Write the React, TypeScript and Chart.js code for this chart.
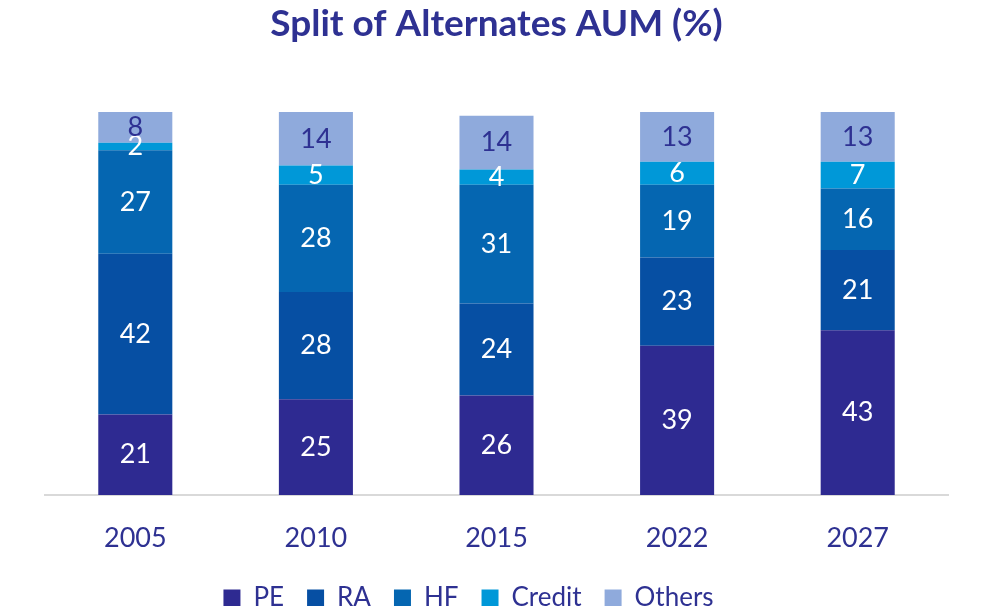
import React, { useEffect, useRef } from "react";
import { Chart, registerables } from "chart.js";

Chart.register(...registerables);

const years = ["2005", "2010", "2015", "2022", "2027"];
const pe = [21, 25, 26, 39, 43];
const ra = [42, 28, 24, 23, 21];
const hf = [27, 28, 31, 19, 16];
const credit = [2, 5, 4, 6, 7];
const others = [8, 14, 14, 13, 13];
const seriesNames = ["PE", "RA", "HF", "Credit", "Others"];
const seriesValues = [pe, ra, hf, credit, others];
const seriesColors = ["#2E2A91", "#064FA3", "#0566B1", "#0098D8", "#8FAADC"];
const labelColors = ["#FFFFFF", "#FFFFFF", "#FFFFFF", "#FFFFFF", "#2E3192"];

const TEXT = "#2E3192";
const FONT = "Lato, 'Open Sans', sans-serif";

const segLabels = {
  id: "segLabels",
  afterDatasetsDraw(chart: any) {
    const ctx = chart.ctx;
    chart.data.datasets.forEach((ds: any, i: number) => {
      const meta = chart.getDatasetMeta(i);
      meta.data.forEach((bar: any, j: number) => {
        const v = ds.data[j];
        const { x, y, base } = bar.getProps(["x", "y", "base"], true);
        ctx.save();
        ctx.fillStyle = labelColors[i];
        ctx.font = `27px ${FONT}`;
        ctx.textAlign = "center";
        ctx.textBaseline = "middle";
        ctx.fillText(String(v), x, (y + base) / 2);
        ctx.restore();
      });
    });
  },
};

// nudge the legend block a little to the left, like the original
const legendShift = {
  id: "legendShift",
  afterLayout(chart: any) {
    if (chart.legend) {
      chart.legend.left -= 56;
    }
  },
};

export default function App() {
  const ref = useRef<HTMLCanvasElement | null>(null);
  useEffect(() => {
    document.body.style.margin = "0";
    const chart = new Chart(ref.current as HTMLCanvasElement, {
      type: "bar",
      data: {
        labels: years,
        datasets: seriesNames.map((name, i) => ({
          label: name,
          data: seriesValues[i],
          backgroundColor: seriesColors[i],
          borderWidth: 0,
          categoryPercentage: 1,
          barPercentage: 0.41,
        })),
      },
      options: {
        responsive: false,
        animation: false,
        layout: { padding: { left: 45, right: 36, top: 0, bottom: 0 } },
        plugins: {
          title: {
            display: true,
            text: "Split of Alternates AUM (%)",
            color: TEXT,
            font: { family: FONT, size: 37, weight: "bold", lineHeight: 1.2 },
            padding: { top: 2, bottom: 65.6 },
          },
          legend: {
            display: true,
            position: "bottom",
            labels: {
              color: TEXT,
              font: { family: FONT, size: 26 },
              boxWidth: 17,
              boxHeight: 17,
              padding: 23,
            },
          },
          tooltip: { enabled: false },
        },
        scales: {
          x: {
            stacked: true,
            grid: {
              display: true,
              drawOnChartArea: false,
              drawTicks: true,
              tickLength: 19,
              color: "rgba(0,0,0,0)",
            },
            border: { display: true, color: "#D9D9D9", width: 2 },
            ticks: {
              color: TEXT,
              font: { family: FONT, size: 27, lineHeight: 38 / 27 },
              padding: 5,
            },
          },
          y: {
            stacked: true,
            display: false,
            min: 0,
            max: 100,
          },
        },
      },
      plugins: [segLabels, legendShift],
    });
    return () => chart.destroy();
  }, []);
  return (
    <div style={{ position: "fixed", left: 0, top: 0, width: 984, height: 606, overflow: "hidden", background: "#fff" }}>
      <canvas ref={ref} width={984} height={621} style={{ width: 984, height: 621, display: "block" }} />
    </div>
  );
}
